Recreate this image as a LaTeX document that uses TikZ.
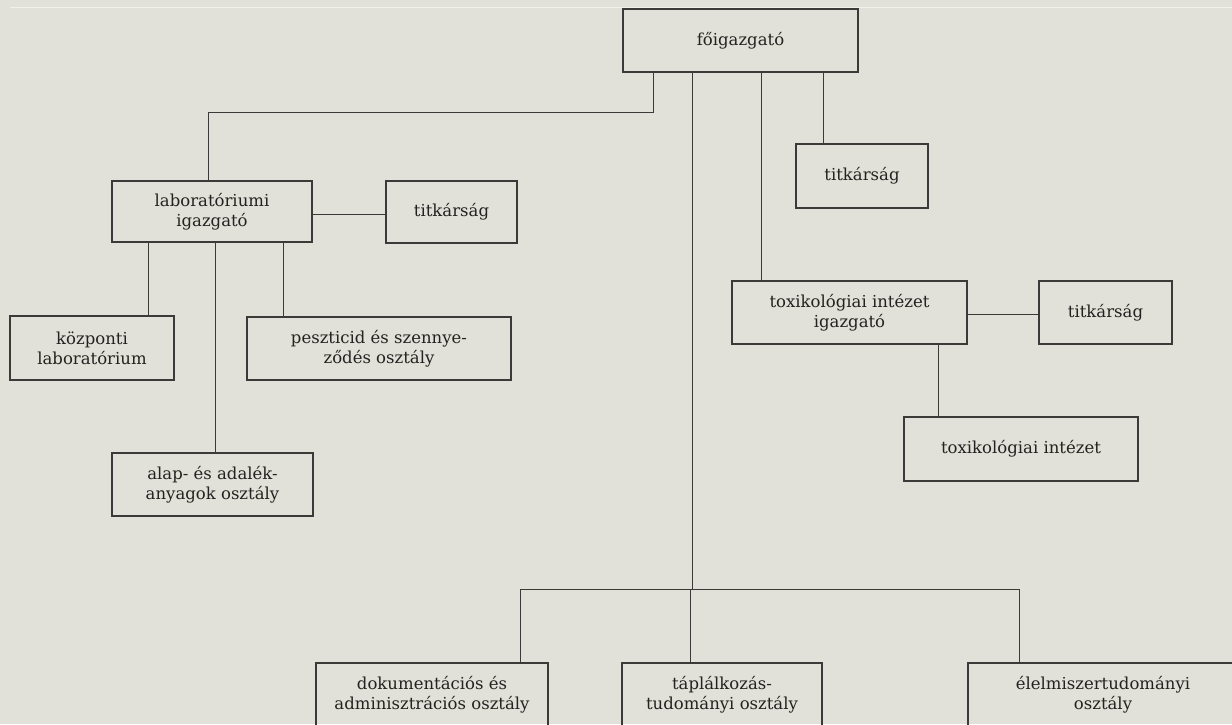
\documentclass[tikz,border=0pt]{standalone}
\usepackage{fontspec}
\setmainfont{DejaVu Serif}
\usetikzlibrary{calc}
\definecolor{paper}{RGB}{225,225,217}
\definecolor{ink}{RGB}{58,58,56}
\definecolor{txt}{RGB}{34,34,32}
\definecolor{scanline}{RGB}{242,242,236}
\tikzset{
  orgbox/.style={draw=ink, line width=1.1pt, rectangle, inner sep=0pt, align=center,
    text=txt, font=\fontsize{16.5}{20}\selectfont},
  link/.style={draw=ink, line width=1pt}
}
\begin{document}
\begin{tikzpicture}[x=1pt,y=-1pt]
\clip (0,0) rectangle (1232,724);
\fill[paper] (0,0) rectangle (1232,724);
\draw[scanline, line width=1pt] (10,7) -- (1232,7);

% boxes
\node[orgbox, minimum width=235pt, minimum height=63pt] (fo) at (740.5,40.5) {főigazgató};
\node[orgbox, minimum width=200pt, minimum height=61pt] (lab) at (212,211.5) {laboratóriumi\\igazgató};
\node[orgbox, minimum width=131pt, minimum height=62pt] (tit1) at (451.5,212) {titkárság};
\node[orgbox, minimum width=164pt, minimum height=64pt] (kozp) at (92,348) {központi\\laboratórium};
\node[orgbox, minimum width=264pt, minimum height=63pt] (pesz) at (379,348.5) {peszticid és szennye-\\ződés osztály};
\node[orgbox, minimum width=201pt, minimum height=63pt] (alap) at (212.5,484.5) {alap- és adalék-\\anyagok osztály};
\node[orgbox, minimum width=132pt, minimum height=64pt] (tit2) at (862,176) {titkárság};
\node[orgbox, minimum width=235pt, minimum height=63pt] (toxi) at (849.5,312.5) {toxikológiai intézet\\igazgató};
\node[orgbox, minimum width=133pt, minimum height=63pt] (tit3) at (1105.5,312.5) {titkárság};
\node[orgbox, minimum width=234pt, minimum height=64pt] (toxint) at (1021,449) {toxikológiai intézet};
\node[orgbox, minimum width=232pt, minimum height=63pt] (dok) at (432,694.5) {dokumentációs és\\adminisztrációs osztály};
\node[orgbox, minimum width=200pt, minimum height=63pt] (tap) at (722,694.5) {táplálkozás-\\tudományi osztály};
\node[orgbox, minimum width=270pt, minimum height=63pt] (elel) at (1103,694.5) {élelmiszertudományi\\osztály};

% connectors from főigazgató
\coordinate (bus) at (692,589);
\draw[link] ($(fo.south)+(-87.5,0)$) -- ++(0,40) -| ($(lab.north)+(-4,0)$);
\draw[link] ($(fo.south)+(-48.5,0)$) -- (bus);
\draw[link] ($(fo.south)+(20.5,0)$) -- ($(toxi.north)+(-88.5,0)$);
\draw[link] ($(fo.south)+(82.5,0)$) -- ($(tit2.north)+(-39,0)$);

% bottom bus
\draw[link] ($(dok.north)+(88,0)$) |- (bus) -| ($(elel.north)+(-84,0)$);
\draw[link] (bus -| {$(tap.north)+(-32,0)$}) -- ($(tap.north)+(-32,0)$);

% laboratory branch
\draw[link] ($(lab.east)+(0,2.5)$) -- ($(lab.east -| tit1.west)+(0,2.5)$);
\draw[link] ($(lab.south)+(-64,0)$) -- ($(kozp.north)+(56,0)$);
\draw[link] ($(lab.south)+(3,0)$) -- ($(alap.north)+(2.5,0)$);
\draw[link] ($(lab.south)+(71,0)$) -- ($(pesz.north)+(-96,0)$);

% toxicology branch
\draw[link] ($(toxi.east)+(0,1.5)$) -- ($(toxi.east -| tit3.west)+(0,1.5)$);
\draw[link] ($(toxi.south)+(88.5,0)$) -- ($(toxint.north)+(-83,0)$);
\end{tikzpicture}
\end{document}
